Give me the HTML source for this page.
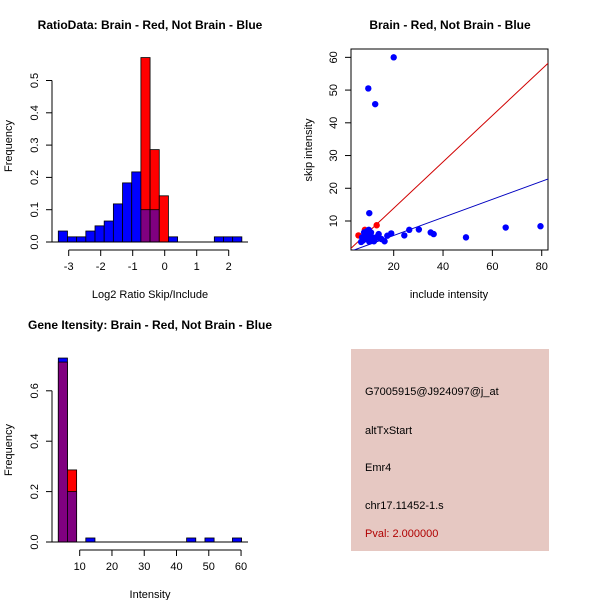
<!DOCTYPE html>
<html><head><meta charset="utf-8"><style>body{margin:0;background:#fff}svg{display:block}text{font-family:"Liberation Sans",sans-serif;fill:#000}</style></head>
<body>
<svg id="s" width="600" height="600" xmlns="http://www.w3.org/2000/svg">
<rect width="600" height="600" fill="#fff"/>
<text x="150" y="29" font-size="12" font-weight="bold" text-anchor="middle">RatioData: Brain - Red, Not Brain - Blue</text>
<text x="450" y="29" font-size="12" font-weight="bold" text-anchor="middle">Brain - Red, Not Brain - Blue</text>
<text x="150" y="329" font-size="12" font-weight="bold" text-anchor="middle">Gene Itensity: Brain - Red, Not Brain - Blue</text>
<text x="150" y="298" font-size="11" text-anchor="middle">Log2 Ratio Skip/Include</text>
<text x="12" y="146" font-size="11" text-anchor="middle" transform="rotate(-90 12 146)">Frequency</text>
<text x="449" y="298" font-size="11" text-anchor="middle">include intensity</text>
<text x="312" y="150" font-size="11" text-anchor="middle" transform="rotate(-90 312 150)">skip intensity</text>
<text x="150" y="598" font-size="11" text-anchor="middle">Intensity</text>
<text x="12" y="450" font-size="11" text-anchor="middle" transform="rotate(-90 12 450)">Frequency</text>
<rect x="351" y="349" width="198" height="202" fill="#e6c8c2"/>
<text x="365" y="395" font-size="11">G7005915@J924097@j_at</text>
<text x="365" y="434" font-size="11">altTxStart</text>
<text x="365" y="471" font-size="11">Emr4</text>
<text x="365" y="509" font-size="11">chr17.11452-1.s</text>
<text x="365" y="537" font-size="11" style="fill:#b00000">Pval: 2.000000</text>
<g id="g"></g>
</svg>
<script>
// Ratio histogram data
const ratioStart = -3.325, ratioWidth = 0.2868;
const ratioBlue = [0.034,0.016,0.016,0.034,0.05,0.065,0.118,0.183,0.217,0.1,0.1,0,0.016,0,0,0,0,0.016,0.016,0.016];
const ratioRed  = [0,0,0,0,0,0,0,0,0,0.571,0.286,0.143,0,0,0,0,0,0,0,0];
const ratioXTicks = [-3,-2,-1,0,1,2];
const ratioYTicks = [0,0.1,0.2,0.3,0.4,0.5];
// Intensity histogram data
const intStart = 3.37, intWidth = 2.84;
const intBlue = [0.73,0.2,0,0.016,0,0,0,0,0,0,0,0,0,0,0.016,0,0.016,0,0,0.016];
const intRed  = [0.714,0.286,0,0,0,0,0,0,0,0,0,0,0,0,0,0,0,0,0,0];
const intXTicks = [10,20,30,40,50,60];
const intYTicks = [0,0.2,0.4,0.6];
// Scatter data
const blueX = [20,9.7,12.5,10.1,19,24.3,26.3,30.2,35,36.2,49.3,65.4,79.5,8,9.4,10.8,7.5,8.8,11.5,12.9,13.9,15,16.3,17.4,6.8,10.1,12,9,11,14,7.2,9.9];
const blueY = [60,50.5,45.7,12.4,6.2,5.6,7.3,7.4,6.5,6,5,8,8.4,6.5,7,6.5,4,4.5,4,5,6,4.5,3.8,5.5,3.6,3.7,3.8,5.5,5.2,4.8,5,7.3];
const redX = [5.7,13.1,8.3];
const redY = [5.6,8.7,7.3];
const redLine = [0.708,-0.25];
const blueLine = [0.276,0.05];
const scXTicks = [20,40,60,80];
const scYTicks = [10,20,30,40,50,60];

const NS="http://www.w3.org/2000/svg", G=document.getElementById('g');
function mk(t,a,p){const e=document.createElementNS(NS,t);for(const k in a)e.setAttribute(k,a[k]);(p||G).appendChild(e);return e;}

function hist(start,width,blue,red,sx,sy,name){
  for(let i=0;i<blue.length;i++){
    const b=blue[i],r=red[i],xl=sx(start+i*width),xr=sx(start+(i+1)*width);
    const mx=Math.max(b,r),mn=Math.min(b,r);
    if(mx<=0)continue;
    let e=mk('rect',{x:xl,y:sy(mx),width:xr-xl,height:sy(0)-sy(mx),fill:b>=r?'#0000ff':'#ff0000',stroke:'#000','stroke-width':0.8});
    
    
    if(mn>0){e=mk('rect',{x:xl,y:sy(mn),width:xr-xl,height:sy(0)-sy(mn),fill:'#800080',stroke:'#000','stroke-width':0.8});
      
      }
  }
}
function xaxis(ticks,sx,y,fmt,name){
  const a=mk('line',{x1:sx(ticks[0]),x2:sx(ticks[ticks.length-1]),y1:y,y2:y,stroke:'#000'});
  
  
  ticks.forEach(t=>{mk('line',{x1:sx(t),x2:sx(t),y1:y,y2:y+6,stroke:'#000'});
    const e=mk('text',{x:sx(t),y:y+20,'font-size':11,'text-anchor':'middle'});e.textContent=fmt(t);
    
    });
}
function yaxis(ticks,sy,x,fmt,name){
  const a=mk('line',{x1:x,x2:x,y1:sy(ticks[0]),y2:sy(ticks[ticks.length-1]),stroke:'#000'});
  
  
  ticks.forEach(t=>{mk('line',{x1:x-6,x2:x,y1:sy(t),y2:sy(t),stroke:'#000'});
    const e=mk('text',{x:x-14,y:sy(t),'font-size':11,'text-anchor':'middle',transform:`rotate(-90 ${x-14} ${sy(t)})`});e.textContent=fmt(t);
    
    });
}
// ratio
{const sx=v=>68.7+(v+3)*32, sy=v=>242-v*323;
 hist(ratioStart,ratioWidth,ratioBlue,ratioRed,sx,sy,'ratio');
 mk('line',{x1:52,x2:248,y1:242,y2:242,stroke:'#000'});
 xaxis(ratioXTicks,sx,250,t=>t,'ratio-x-axis');
 yaxis(ratioYTicks,sy,52,t=>t.toFixed(1),'ratio-y-axis');}
// intensity
{const sx=v=>79.7+(v-10)*3.227, sy=v=>542-v*252;
 hist(intStart,intWidth,intBlue,intRed,sx,sy,'intensity');
 mk('line',{x1:52,x2:248,y1:542,y2:542,stroke:'#000'});
 xaxis(intXTicks,sx,550,t=>t,'intensity-x-axis');
 yaxis(intYTicks,sy,52,t=>t.toFixed(1),'intensity-y-axis');}
// scatter
{const sx=v=>393.7+(v-20)*2.467, sy=v=>221-(v-10)*3.273;
 const cp=mk('clipPath',{id:'cp'});mk('rect',{x:351,y:49,width:197,height:201},cp);
 const box=mk('rect',{x:351,y:49,width:197,height:201,fill:'none',stroke:'#000'});
 
 
 [[redLine,'#d00000','red-fit-line'],[blueLine,'#0000c0','blue-fit-line']].forEach(([l,c,n])=>{
   const e=mk('line',{x1:sx(0),y1:sy(l[1]),x2:sx(90),y2:sy(l[0]*90+l[1]),stroke:c,'clip-path':'url(#cp)'});
   
   });
 redX.forEach((x,i)=>{const e=mk('circle',{cx:sx(x),cy:sy(redY[i]),r:3.2,fill:'#ff0000'});
   
   });
 blueX.forEach((x,i)=>{const e=mk('circle',{cx:sx(x),cy:sy(blueY[i]),r:3.2,fill:'#0000ff'});
   
   });
 scXTicks.forEach(t=>{mk('line',{x1:sx(t),x2:sx(t),y1:250,y2:256,stroke:'#000'});
   const e=mk('text',{x:sx(t),y:270,'font-size':11,'text-anchor':'middle'});e.textContent=t;
   
   });
 scYTicks.forEach(t=>{mk('line',{x1:345,x2:351,y1:sy(t),y2:sy(t),stroke:'#000'});
   const e=mk('text',{x:337,y:sy(t),'font-size':11,'text-anchor':'middle',transform:`rotate(-90 337 ${sy(t)})`});e.textContent=t;
   
   });}
</script>
</body></html>
